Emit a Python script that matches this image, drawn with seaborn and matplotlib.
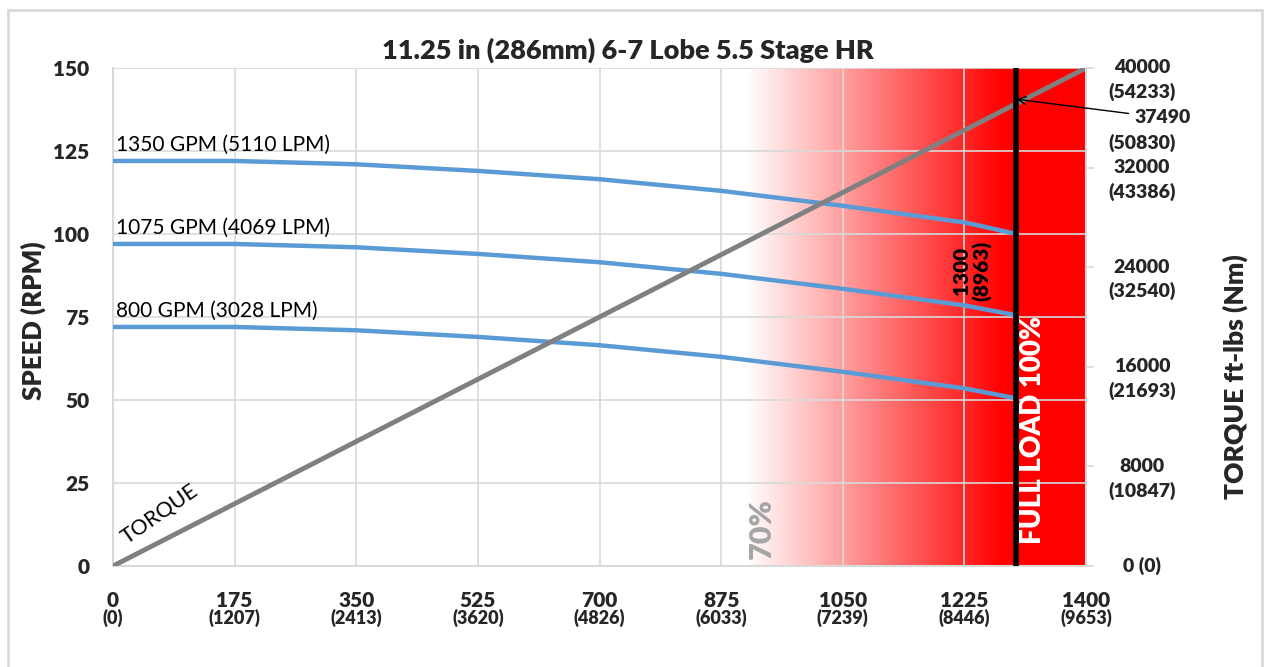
import numpy as np
import pandas as pd
import matplotlib
matplotlib.use("Agg")
import matplotlib.pyplot as plt
import matplotlib.transforms as mtransforms
from matplotlib.patches import Rectangle
from matplotlib import font_manager as fm
import seaborn as sns

# ---------------- data ----------------
pressure_psi = [0, 175, 350, 525, 700, 875, 1050, 1225, 1300]
speed_1350 = [122, 122, 121, 119, 116.5, 113, 108.5, 103.5, 100]
speed_1075 = [97, 97, 96, 94, 91.5, 88, 83.5, 78.5, 75.5]
speed_800 = [72, 72, 71, 69, 66.5, 63, 58.5, 53.5, 50.5]
flow_labels = ["1350 GPM (5110 LPM)", "1075 GPM (4069 LPM)", "800 GPM (3028 LPM)"]

torque_psi = [0, 1400]
torque_ftlbs = [0, 40000]

x_ticks = [0, 175, 350, 525, 700, 875, 1050, 1225, 1400]
x_kpa = ["(0)", "(1207)", "(2413)", "(3620)", "(4826)", "(6033)", "(7239)", "(8446)", "(9653)"]
y_ticks = [0, 25, 50, 75, 100, 125, 150]
t_ticks = [0, 8000, 16000, 24000, 32000, 40000]
t_main = ["0 (0)", "8000", "16000", "24000", "32000", "40000"]
t_nm = ["", "(10847)", "(21693)", "(32540)", "(43386)", "(54233)"]

full_load_psi = 1300
full_load_kpa = 8963
full_load_torque = 37490
full_load_nm = 50830
seventy_pct_psi = 910

title = "11.25 in (286mm) 6-7 Lobe 5.5 Stage HR"

# ---------------- style ----------------
sns.set_theme(style="white")

family = "DejaVu Sans"
for cand in ["Lato", "Open Sans", "Noto Sans", "Roboto"]:
    try:
        p = fm.findfont(fm.FontProperties(family=cand, weight="bold"), fallback_to_default=False)
        if "bold" in p.lower() and cand.replace(" ", "").lower() in p.replace(" ", "").lower():
            family = cand
            break
    except Exception:
        pass
plt.rcParams["font.family"] = [family, "DejaVu Sans"]
k = 1.0 if family in ("Lato", "Roboto") else 0.9
BW = "heavy"

fig = plt.figure(figsize=(12.66, 6.67), dpi=100)
ax = fig.add_axes([113 / 1266, 1 - 566 / 667, (1086 - 113) / 1266, (566 - 68) / 667])

blue = "#5B9BD5"
gray = "#808080"
grid_c = "#D9D9D9"

# gradient warning zone
xs = np.linspace(seventy_pct_psi, 1400, 400)
frac = np.clip((xs - seventy_pct_psi) / (1280 - seventy_pct_psi), 0, 1)
img = np.zeros((2, len(xs), 4))
img[..., 0] = 1.0
img[..., 3] = frac
ax.imshow(img, extent=[seventy_pct_psi, 1400, 0, 150], aspect="auto",
          interpolation="bilinear", zorder=0.2)

# speed curves
df = pd.DataFrame({
    "psi": pressure_psi * 3,
    "rpm": speed_1350 + speed_1075 + speed_800,
    "flow": [flow_labels[0]] * len(pressure_psi) + [flow_labels[1]] * len(pressure_psi)
            + [flow_labels[2]] * len(pressure_psi),
})
sns.lineplot(data=df, x="psi", y="rpm", units="flow", estimator=None, color=blue,
             linewidth=3.2, ax=ax, legend=False, zorder=3)

ax.set_xlim(0, 1400)
ax.set_ylim(0, 150)
ax.set_axisbelow(True)
ax.grid(True, color=grid_c, linewidth=1.2)
ax.set_xticks(x_ticks)
ax.set_yticks(y_ticks)
ax.set_xticklabels([str(v) for v in x_ticks], fontsize=15 * k, fontweight=BW)
ax.set_yticklabels([str(v) for v in y_ticks], fontsize=15 * k, fontweight=BW)
ax.tick_params(axis="x", length=0, pad=18)
ax.tick_params(axis="y", length=0, pad=17)
for s in ["top", "right"]:
    ax.spines[s].set_visible(False)
for s in ["left", "bottom"]:
    ax.spines[s].set_color(grid_c)
    ax.spines[s].set_linewidth(1.5)
ax.set_xlabel("")
ax.set_ylabel("")
fig.text(33 / 1266, 1 - 321 / 667, "SPEED (RPM)", rotation=90, ha="center",
         va="center", fontsize=18.5 * k, fontweight=BW)

# secondary x labels (kPa)
trans = mtransforms.blended_transform_factory(ax.transData, ax.transAxes)
trans_off = mtransforms.offset_copy(trans, fig=fig, x=0, y=-52, units="dots")
for xv, lab in zip(x_ticks, x_kpa):
    ax.text(xv, 0, lab, transform=trans_off, ha="center", va="center",
            fontsize=13 * k, fontweight=BW)

# curve labels
for yv, lab in zip([speed_1350[0], speed_1075[0], speed_800[0]], flow_labels):
    ax.text(4, yv + 1.8, lab, fontsize=15 * k, ha="left", va="bottom", color="black")

# text annotations on primary axes
ax.text(seventy_pct_psi + 24, 2, "70%", rotation=90, ha="center", va="bottom",
        fontsize=22 * k, fontweight=BW, color="#A6A6A6", zorder=4)
ax.text(1324, 41, "FULL LOAD 100%", rotation=90, ha="center", va="center",
        fontsize=20 * k, fontweight=BW, color="white", zorder=4)
ax.text(1236, 89, f"{full_load_psi}\n({full_load_kpa})", rotation=90, ha="center",
        va="center", fontsize=15 * k, fontweight=BW, color="black", zorder=4,
        linespacing=1.1)
ax.text(67, 15.5, "TORQUE", rotation=35, ha="center", va="center", fontsize=15.5 * k,
        color="black", zorder=4)

# torque axis
ax2 = ax.twinx()
tdf = pd.DataFrame({"psi": torque_psi, "torque": torque_ftlbs})
sns.lineplot(data=tdf, x="psi", y="torque", color=gray, linewidth=3.5, ax=ax2,
             legend=False)
ax2.axvline(full_load_psi, color="black", linewidth=4, zorder=5)
ax2.set_ylim(0, 40000)
ax2.set_yticks(t_ticks)
ax2.set_yticklabels([])
ax2.tick_params(axis="y", length=6, width=1.2, color=grid_c, direction="out")
ax2.grid(False)
for s in ["top", "left", "bottom"]:
    ax2.spines[s].set_visible(False)
ax2.spines["right"].set_color(grid_c)
ax2.spines["right"].set_linewidth(1.5)
ax2.set_xlabel("")
ax2.set_ylabel("")

rtrans = mtransforms.blended_transform_factory(ax2.transAxes, ax2.transData)
rtrans_off = mtransforms.offset_copy(rtrans, fig=fig, x=0, y=-24, units="dots")
for tv, m, n in zip(t_ticks, t_main, t_nm):
    ax2.text(1.0575, tv, m, transform=rtrans, ha="center", va="center",
             fontsize=14 * k, fontweight=BW)
    if n:
        ax2.text(1.0575, tv, n, transform=rtrans_off, ha="center", va="center",
                 fontsize=14 * k, fontweight=BW)

# full load torque annotation
ax2.annotate(str(full_load_torque), xy=(full_load_psi, full_load_torque),
             xytext=(1.050, 36000), textcoords=rtrans,
             ha="left", va="center", fontsize=14 * k, fontweight=BW,
             arrowprops=dict(arrowstyle="->", color="black", lw=1.0,
                             shrinkA=2, shrinkB=0))
ax2.text(1.0575, 33950, f"({full_load_nm})", transform=rtrans, ha="center",
         va="center", fontsize=14 * k, fontweight=BW)

fig.text(1235 / 1266, 1 - 377 / 667, "TORQUE ft-lbs (Nm)", rotation=90,
         ha="center", va="center", fontsize=19 * k, fontweight=BW)
fig.text(628 / 1266, 1 - 50 / 667, title, ha="center", va="center",
         fontsize=19.5 * k, fontweight=BW)

# figure border
fig.patches.append(Rectangle((8 / 1266, -0.05), (1262 - 8) / 1266, 1.05 - 10 / 667,
                             transform=fig.transFigure, fill=False,
                             edgecolor=grid_c, linewidth=2))

fig.savefig("out.png", dpi=100)
